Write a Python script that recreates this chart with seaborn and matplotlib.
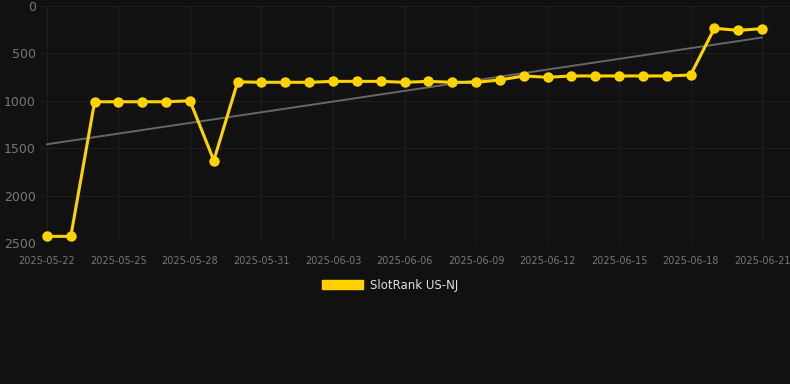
import numpy as np
import pandas as pd
import seaborn as sns
import matplotlib.pyplot as plt
import matplotlib.dates as mdates
from matplotlib.patches import Patch

# daily rank values (lower = better)
dates = pd.date_range('2025-05-22', '2025-06-21', freq='D')
rank = [2430, 2430, 1010, 1010, 1010, 1010, 1000, 1630, 800, 805,
        805, 805, 795, 795, 795, 805, 795, 805, 805, 780,
        738, 752, 738, 738, 738, 738, 738, 728, 235, 257,
        239]
series_name = 'SlotRank US-NJ'
tick_dates = pd.date_range('2025-05-22', '2025-06-21', freq='3D')
y_ticks = [0, 500, 1000, 1500, 2000, 2500]

df = pd.DataFrame({'date': dates, 'rank': rank})

# linear trend over the period
days = np.arange(len(df))
coef = np.polyfit(days, df['rank'], 1)
df['trend'] = np.polyval(coef, days)

bg = '#111111'
gold = '#FFD200'

sns.set_theme(style='dark')
plt.rcParams['font.family'] = ['DejaVu Sans']

fig = plt.figure(figsize=(7.9, 3.84), dpi=100, facecolor=bg)
ax = fig.add_axes([40 / 790, 1 - 243 / 384, 750 / 790, 237 / 384])
ax.set_facecolor(bg)

sns.lineplot(data=df, x='date', y='trend', ax=ax, color='#666666',
             linewidth=1.4, zorder=2)
sns.lineplot(data=df, x='date', y='rank', ax=ax, color=gold,
             linewidth=2.2, marker='o', markersize=7.5,
             markeredgewidth=0, zorder=3)

ax.set_ylim(2500, 0)
ax.set_yticks(y_ticks)
start = dates[0]
ax.set_xlim(start - pd.Timedelta(hours=7), start + pd.Timedelta(days=31.17))
ax.set_xticks(tick_dates)
ax.xaxis.set_major_formatter(mdates.DateFormatter('%Y-%m-%d'))

ax.grid(True, color='#1e1e1e', linewidth=0.8)
for s in ax.spines.values():
    s.set_visible(False)
ax.tick_params(axis='x', colors='#777777', labelsize=7, length=0, pad=9)
ax.tick_params(axis='y', colors='#777777', labelsize=9, length=0, pad=3)
ax.set_xlabel('')
ax.set_ylabel('')

handle = Patch(facecolor=gold, edgecolor=gold)
fig.legend([handle], [series_name], loc='center', bbox_to_anchor=(390 / 790, 1 - 285 / 384),
           frameon=False, labelcolor='#e0e0e0', fontsize=8.5,
           handlelength=3.5, handleheight=0.9, handletextpad=0.6)

fig.savefig('out.png', dpi=100, facecolor=bg)
